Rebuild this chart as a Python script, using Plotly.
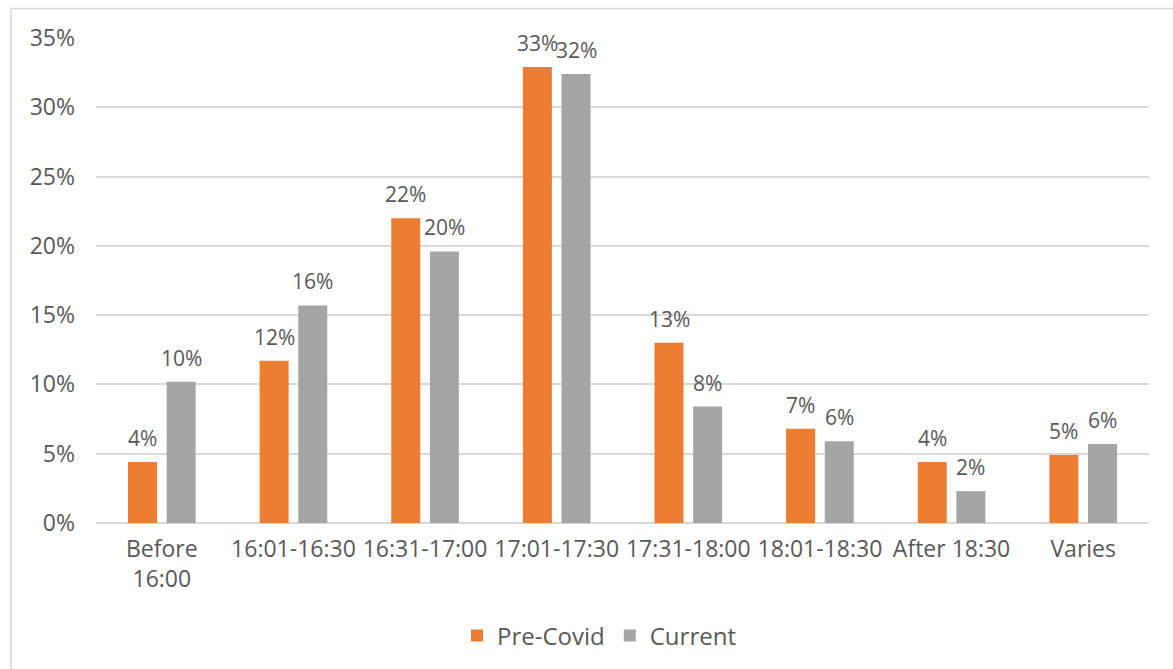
import plotly.graph_objects as go

categories = ["Before<br>16:00", "16:01-16:30", "16:31-17:00", "17:01-17:30",
              "17:31-18:00", "18:01-18:30", "After 18:30", "Varies"]
pre_covid = [0.044, 0.117, 0.220, 0.329, 0.130, 0.068, 0.044, 0.049]
current = [0.102, 0.157, 0.196, 0.324, 0.084, 0.059, 0.023, 0.057]
y_ticks = [0, 0.05, 0.10, 0.15, 0.20, 0.25, 0.30, 0.35]

ORANGE = "#ED7D31"
GREY = "#A5A5A5"
TEXT = "#595959"
GRID = "#D9D9D9"
FONT = "Open Sans"

W, H = 1173, 669
L, R, T, B = 96, 24, 38, 146
BARGAP, GROUPGAP = 0.413, 0.25

fig = go.Figure()
fig.add_trace(go.Bar(name="Pre-Covid", x=categories, y=pre_covid,
                     marker=dict(color=ORANGE, line=dict(width=0))))
fig.add_trace(go.Bar(name="Current", x=categories, y=current,
                     marker=dict(color=GREY, line=dict(width=0))))

# value labels centred over each bar
slot = (1 - BARGAP) / 2
for series, sign in ((pre_covid, -1), (current, 1)):
    for i, v in enumerate(series):
        fig.add_annotation(x=i + sign * slot / 2, y=v, xref="x", yref="y",
                           text=f"{round(v * 100):.0f}%", showarrow=False,
                           yanchor="bottom", xanchor="center", yshift=8,
                           font=dict(family=FONT, size=21, color=TEXT))

# chart frame
pw, ph = W - L - R, H - T - B
fig.add_shape(type="rect", xref="paper", yref="paper",
              x0=(11 - L) / pw, x1=(W + 10 - L) / pw,
              y0=(H - B - (H + 10)) / ph, y1=(H - B - 8.5) / ph,
              line=dict(color=GRID, width=1.5), fillcolor="rgba(0,0,0,0)", layer="below")

fig.update_layout(
    width=W, height=H,
    margin=dict(l=L, r=R, t=T, b=B, autoexpand=False),
    paper_bgcolor="white", plot_bgcolor="white",
    barmode="group", bargap=BARGAP, bargroupgap=GROUPGAP,
    font=dict(family=FONT, size=21, color=TEXT),
    legend=dict(orientation="h", x=(599 - L) / pw, xanchor="center",
                y=(H - B - 636) / ph, yanchor="middle",
                font=dict(family=FONT, size=24, color=TEXT),
                itemwidth=30, traceorder="normal"),
    xaxis=dict(showgrid=False, showline=False, ticks="", ticklabelstandoff=10,
               tickfont=dict(family=FONT, size=23, color=TEXT)),
    yaxis=dict(range=[0, 0.35], tickvals=y_ticks, tickformat=".0%",
               showgrid=True, gridcolor=GRID, gridwidth=1.5,
               zeroline=True, zerolinecolor=GRID, zerolinewidth=1.5,
               showline=False, ticks="", ticklabelstandoff=20,
               tickfont=dict(family=FONT, size=23, color=TEXT)),
)

fig.write_html("out.html")
